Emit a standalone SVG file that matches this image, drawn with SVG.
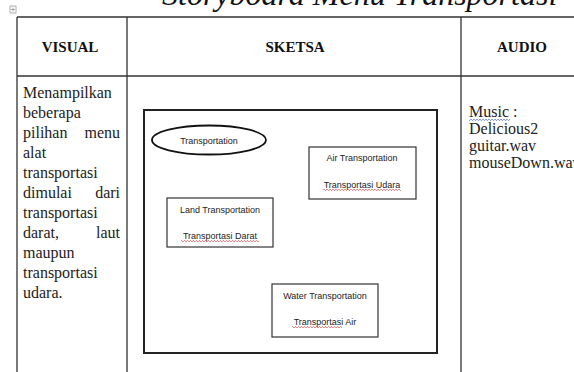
<svg xmlns="http://www.w3.org/2000/svg" width="574" height="372" viewBox="0 0 574 372">
<style>
.grid{stroke:#333;stroke-width:1.3;fill:none}
.hd{font-family:"Liberation Serif",serif;font-weight:bold;font-size:15px;fill:#111;text-anchor:middle}
.bt{font-family:"Liberation Serif",serif;font-size:16px;fill:#222}
.sk{font-family:"Liberation Sans",Arial,sans-serif;font-size:9px;fill:#222;text-anchor:middle}
.box{fill:#fff;stroke:#333;stroke-width:1.2}
.title{font-family:"Liberation Serif",serif;font-style:italic;font-size:32px;fill:#111}
</style>
<defs>
<pattern id="wr" width="3" height="2" patternUnits="userSpaceOnUse"><path d="M0,2 L1.5,0.3 L3,2" fill="none" stroke="#d03030" stroke-width="0.6"/></pattern>
<pattern id="wb" width="3" height="2" patternUnits="userSpaceOnUse"><path d="M0,2 L1.5,0.3 L3,2" fill="none" stroke="#3050c0" stroke-width="0.6"/></pattern>
</defs>
<rect width="574" height="372" fill="#fff"/>
<text class="title" x="162" y="5">Storyboard Menu Transportasi</text>
<g id="handle"><rect x="10" y="6" width="6" height="7" fill="none" stroke="#999" stroke-width="0.8"/><path d="M13,7.5 V11.5 M11,9.5 H15" stroke="#888" stroke-width="0.7"/></g>
<g id="table">
<path class="grid" d="M17,17 H574 M17,76 H574 M17,17 V372 M127,17 V372 M461,17 V372"/>
<text class="hd" x="70" y="52">VISUAL</text>
<text class="hd" x="295" y="52">SKETSA</text>
<text class="hd" x="522" y="52">AUDIO</text>
</g>
<g id="visual-text" class="bt">
<text x="23" y="98">Menampilkan</text>
<text x="23" y="118">beberapa</text>
<text x="23" y="138">pilihan</text><text x="120" y="138" text-anchor="end">menu</text>
<text x="23" y="158">alat</text>
<text x="23" y="178">transportasi</text>
<text x="23" y="198">dimulai</text><text x="120" y="198" text-anchor="end">dari</text>
<text x="23" y="218">transportasi</text>
<text x="23" y="238">darat,</text><text x="120" y="238" text-anchor="end">laut</text>
<text x="23" y="258">maupun</text>
<text x="23" y="278">transportasi</text>
<text x="23" y="298">udara.</text>
</g>
<g id="audio-text" class="bt">
<text x="469" y="117">Music :</text>
<rect x="469" y="119" width="41" height="2" fill="url(#wb)"/>
<text x="469" y="134">Delicious2</text>
<text x="469" y="151">guitar.wav</text>
<text x="469" y="168">mouseDown.wav</text>
</g>
<g id="sketch">
<rect x="144" y="110" width="293" height="243" fill="none" stroke="#222" stroke-width="2"/>
</g>
<g id="node-transportation">
<ellipse cx="209" cy="140" rx="57" ry="14.5" fill="#fff" stroke="#111" stroke-width="1.8"/>
<text class="sk" x="209" y="144">Transportation</text>
</g>
<g id="node-air">
<rect class="box" x="309" y="147" width="107" height="52"/>
<text class="sk" x="362" y="161">Air Transportation</text>
<text class="sk" x="362" y="188">Transportasi Udara</text>
<rect x="323" y="189" width="78" height="2" fill="url(#wr)"/>
</g>
<g id="node-land">
<rect class="box" x="167" y="198" width="106" height="49"/>
<text class="sk" x="220" y="213">Land Transportation</text>
<text class="sk" x="220" y="239">Transportasi Darat</text>
<rect x="181" y="240" width="78" height="2" fill="url(#wr)"/>
</g>
<g id="node-water">
<rect class="box" x="272" y="284" width="106" height="53"/>
<text class="sk" x="325" y="299">Water Transportation</text>
<text class="sk" x="325" y="325">Transportasi Air</text>
<rect x="292" y="326" width="50" height="2" fill="url(#wr)"/>
</g>
<g id="connectors"></g>
</svg>
